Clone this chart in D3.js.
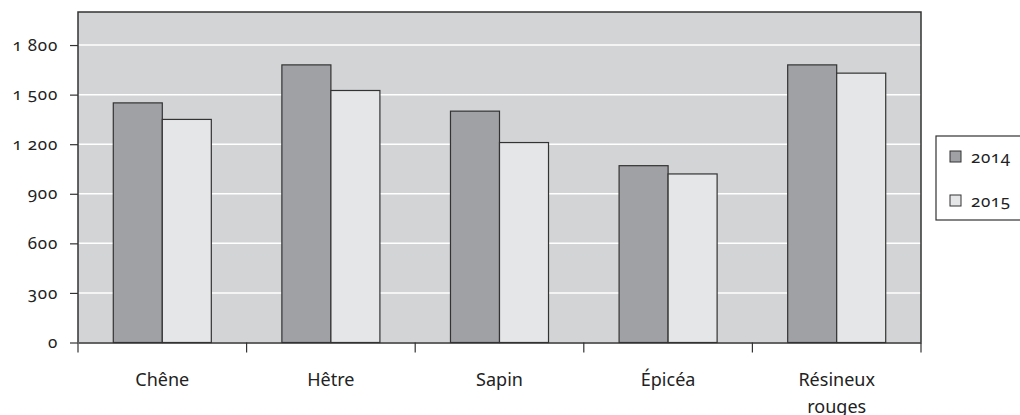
<!DOCTYPE html>
<html><head><meta charset="utf-8">
<script src="https://cdn.jsdelivr.net/npm/d3@7"></script>
<style>
html,body{margin:0;padding:0;background:#fff;}
svg text{font-family:"Noto Sans","Open Sans",sans-serif;font-variant-numeric:oldstyle-nums;font-feature-settings:"onum" 1;fill:#222;}
</style></head>
<body><svg id="c" width="1020" height="415"></svg>
<script>
const categories = ["Chêne","Hêtre","Sapin","Épicéa","Résineux rouges"];
const seriesNames = ["2014","2015"];
const values2014 = [1450,1680,1400,1070,1680];
const values2015 = [1350,1525,1210,1020,1630];
const yTicks = [0,300,600,900,1200,1500,1800];
const colors = ["#a0a1a5","#e5e6e8"];

const svg = d3.select("#c");
const L=78, R=921, T=12, B=342.5;
const x = d3.scaleBand().domain(categories).range([L,R]).paddingInner(0).paddingOuter(0);
const y = d3.scaleLinear().domain([0,2000]).range([B,T]);
const inner = d3.scaleBand().domain(seriesNames).range([0,x.bandwidth()]).paddingOuter(0.72).paddingInner(0);

svg.append("rect").attr("x",L).attr("y",T).attr("width",R-L).attr("height",B-T).attr("fill","#d3d4d6");
svg.append("g").selectAll("line").data(yTicks.filter(d=>d>0)).join("line")
  .attr("x1",L).attr("x2",R).attr("y1",d=>y(d)).attr("y2",d=>y(d)).attr("stroke","#fff").attr("stroke-width",1.5);

const fmt = d => d>=1000 ? String(Math.floor(d/1000))+" "+String(d%1000).padStart(3,"0") : String(d);
const series = [values2014, values2015];
series.forEach((vals,si)=>{
  svg.append("g").selectAll("rect").data(categories).join("rect")
    .attr("x",(c)=>x(c)+inner(seriesNames[si]))
    .attr("y",(c,i)=>y(vals[i]))
    .attr("width",inner.bandwidth())
    .attr("height",(c,i)=>y(0)-y(vals[i]))
    .attr("fill",colors[si]).attr("stroke","#333").attr("stroke-width",1.2);
});

// border
svg.append("path").attr("d",`M${L},${B}V${T}H${R}V${B}`).attr("fill","none").attr("stroke","#333").attr("stroke-width",1.5);

const yAxis = svg.append("g").attr("transform",`translate(${L},0)`).call(d3.axisLeft(y).tickValues(yTicks).tickSize(8).tickPadding(0).tickFormat(fmt));
yAxis.select(".domain").remove();
yAxis.selectAll("line").attr("stroke","#333").attr("stroke-width",1.2);
yAxis.selectAll("text").attr("x",-20).attr("dy","0.3em").attr("font-size",17).attr("letter-spacing","0.8px").attr("fill","#222");

const xAxis = svg.append("g").attr("transform",`translate(0,${B})`).call(d3.axisBottom(x).tickSize(0).tickPadding(0).tickFormat(""));
xAxis.select(".domain").attr("stroke","#333").attr("stroke-width",1.5);
xAxis.selectAll(".tick").remove();
const bounds = categories.map(c=>x(c)).concat([R]);
xAxis.selectAll("line.b").data(bounds).join("line").attr("class","b")
  .attr("x1",d=>d).attr("x2",d=>d).attr("y1",0).attr("y2",10).attr("stroke","#333").attr("stroke-width",1.2);
const lab = xAxis.selectAll("text.l").data(categories).join("text").attr("class","l")
  .attr("x",c=>x(c)+x.bandwidth()/2).attr("y",43).attr("text-anchor","middle").attr("font-size",18);
lab.each(function(c){
  const words = c.split(" ");
  const t=d3.select(this);
  words.forEach((w,i)=>t.append("tspan").attr("x",x(c)+x.bandwidth()/2).attr("dy",i?27:0).text(w));
});

// legend
const lg = svg.append("g");
lg.append("rect").attr("x",936).attr("y",136).attr("width",100).attr("height",84).attr("fill","#fff").attr("stroke","#333").attr("stroke-width",1.2);
seriesNames.forEach((s,i)=>{
  const yy = 156.5 + i*44;
  lg.append("rect").attr("x",950).attr("y",yy-5.5).attr("width",11).attr("height",11).attr("fill",colors[i]).attr("stroke","#333").attr("stroke-width",1);
  lg.append("text").attr("x",971).attr("y",yy+6).attr("font-size",17).attr("letter-spacing","0.6px").text(s);
});
</script></body></html>
